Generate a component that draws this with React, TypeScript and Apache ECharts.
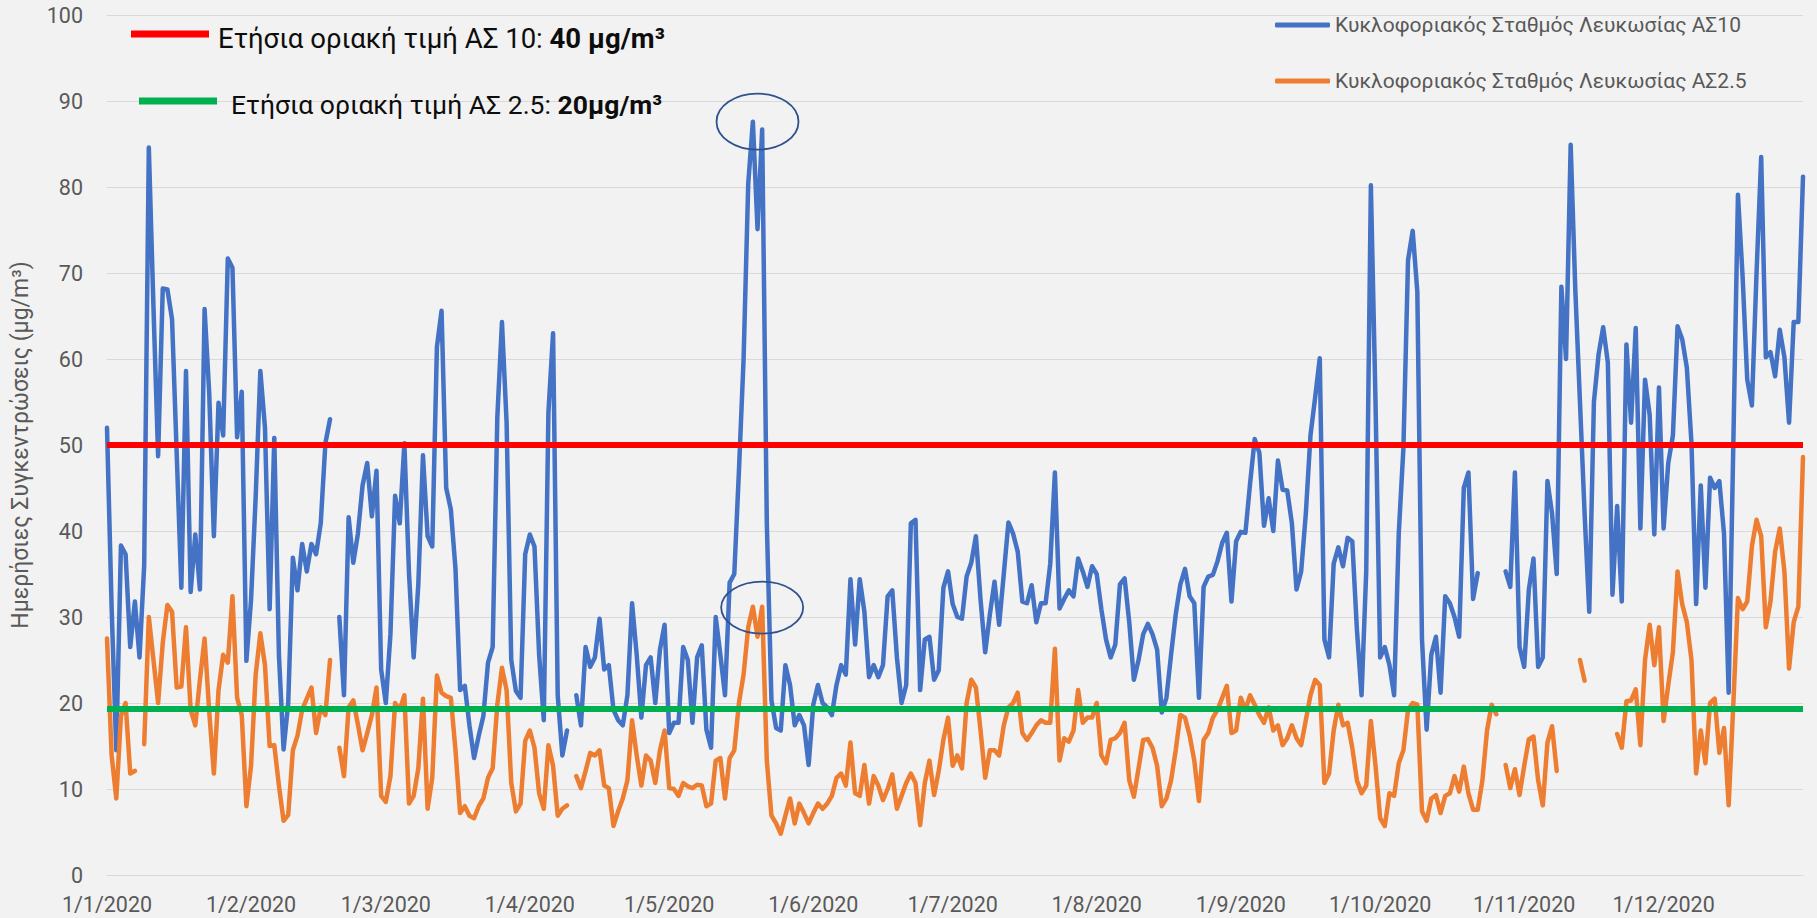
import React, { useEffect, useRef } from "react";
import * as echarts from "echarts";

const MONTH_DAYS = [31, 29, 31, 30, 31, 30, 31, 31, 30, 31, 30, 31];
const YEAR = 2020;

const PM10_NAME = "Κυκλοφοριακός Σταθμός Λευκωσίας ΑΣ10";
const PM25_NAME = "Κυκλοφοριακός Σταθμός Λευκωσίας ΑΣ2.5";
const Y_NAME = "Ημερήσιες Συγκεντρώσεις (μg/m³)";

const LIMIT_PM10 = 50;
const LIMIT_PM25 = 19.3;

// daily values, 1/1/2020 .. 31/12/2020
const pm10: (number | null)[] = [
  52, 31, 14.5, 38.3, 37.3, 26.5, 31.8, 25.3, 36, 84.6,
  66, 48.7, 68.2, 68.1, 64.6, 49, 33.4, 58.6, 32.9, 39.6,
  33.2, 65.8, 56, 39.4, 54.9, 51.1, 71.7, 70.6, 50.9, 56.2,
  24.9, 32, 44, 58.6, 52, 30.9, 50.8, 25.6, 14.6, 20,
  36.9, 33.1, 38.5, 35.3, 38.5, 37.3, 40.9, 50.2, 53, null,
  30, 20.9, 41.6, 36.3, 39.7, 45.3, 47.9, 41.7, 47, 23.9,
  20, 28, 44.1, 40.9, 50.2, 35, 25.3, 33.8, 48.8, 39.4,
  38.2, 61.4, 65.6, 45, 42.5, 35.6, 21.5, 22, 17.4, 13.6,
  16.2, 18.5, 24.7, 26.5, 53.2, 64.3, 52.6, 25, 21.4, 20.6,
  37.3, 39.6, 38.2, 25.6, 18, 53.8, 63, 20.9, 13.9, 16.8,
  null, 20.9, 17.4, 26.5, 24.2, 25.3, 29.8, 23.9, 24.4, 19.2,
  18, 17.4, 20.9, 31.6, 25.6, 18.3, 24.4, 25.3, 20, 26.2,
  29.1, 16.5, 17.7, 17.7, 26.5, 25, 17.7, 25.3, 26.7, 16.9,
  14.8, 30, 25.6, 20.9, 34, 35, 47, 60, 80.4, 87.6,
  75.1, 86.7, 40.9, 20.3, 17.1, 16.8, 24.4, 22.1, 17.4, 18.6,
  17.4, 12.8, 19.8, 22.1, 20, 19.5, 18.6, 22.1, 24.4, 23.3,
  34.4, 26.8, 34.4, 30.6, 23, 24.4, 23, 24.4, 32.4, 33.1,
  25.3, 20, 22.1, 40.9, 41.3, 21.5, 27.4, 27.7, 22.7, 23.8,
  33.4, 35.3, 31.5, 30, 29.8, 34.7, 36.3, 39.4, 32, 25.9,
  30.3, 34.1, 29.1, 35, 41, 39.7, 37.6, 31.8, 31.6, 33.7,
  29.4, 31.6, 31.6, 36.2, 46.8, 31, 32.1, 33.1, 32.4, 36.8,
  35.3, 33.5, 35.9, 35, 30.9, 27.4, 25.3, 26.8, 33.8, 34.5,
  29.4, 22.7, 25, 28, 29.2, 28, 26.2, 18.9, 20.6, 25.6,
  30.3, 33.8, 35.6, 32.4, 31.6, 20.6, 33.5, 34.7, 34.9, 36.5,
  38.6, 39.8, 31.8, 38.8, 39.9, 39.8, 45.5, 50.7, 49.1, 40.6,
  43.8, 40, 48.2, 44.8, 44.7, 40.9, 33.2, 35.3, 42, 51.1,
  55.5, 60.1, 27.4, 25.3, 36.2, 38.1, 35.9, 39.2, 38.8, 28.5,
  20.9, 35.3, 80.2, 55, 25.3, 26.5, 24.4, 20.9, 39.7, 49.6,
  71.5, 74.9, 67.8, 27.4, 16.9, 25.6, 27.7, 21.2, 32.4, 31.6,
  30, 27.7, 45, 46.8, 32.1, 35.1, null, null, null, null,
  null, 35.3, 33.5, 46.8, 26.5, 24.2, 33.2, 36.8, 24.2, 25.3,
  45.8, 42, 35, 68.4, 60, 84.9, 68, 55, 42, 30.6,
  55, 60.5, 63.7, 59.6, 32.6, 42.9, 31.8, 61.7, 52.6, 63.6,
  40.3, 57.6, 53.5, 39.6, 56.7, 40.3, 47.9, 51.1, 63.8, 62.3,
  59, 50.2, 31.5, 45.3, 33.4, 46.2, 45, 45.8, 39.7, 21.2,
  50, 79.1, 69.6, 57.6, 54.6, 70, 83.5, 60.2, 60.8, 58,
  63.4, 60.2, 52.6, 64.3, 64.3, 81.2,
];

const pm25: (number | null)[] = [
  27.5, 13.9, 8.9, 18.5, 20, 11.8, 12.1, null, 15.2, 30,
  25, 20, 27, 31.4, 30.6, 21.8, 21.9, 28.8, 19.2, 17.4,
  22.7, 27.5, 19, 11.8, 21.5, 25.6, 24.7, 32.4, 20.6, 18.6,
  8, 12.7, 23.3, 28.1, 24.4, 15, 15.1, 10.4, 6.3, 7,
  14.5, 16.2, 19.2, 20.5, 21.8, 16.5, 19.5, 18.6, 25, null,
  14.8, 11.5, 19.5, 20.3, 17.5, 14.5, 16.5, 18.6, 21.8, 9.2,
  8.5, 11.5, 20, 19.2, 20.9, 8.3, 9.2, 12.4, 20.5, 7.7,
  11.3, 23.2, 21.2, 20.8, 20.6, 14.5, 7.2, 8, 6.9, 6.6,
  8, 8.9, 11.3, 12.4, 19.8, 24.1, 21.5, 10.7, 7.4, 8.3,
  15.6, 16.8, 14.8, 9.5, 7.7, 15.1, 12.7, 6.9, 7.7, 8.1,
  null, 11.5, 10.1, 12.1, 14.2, 13.9, 14.5, 10.4, 10.1, 5.7,
  7.4, 8.9, 11, 18, 13.9, 10.4, 13.9, 13.3, 10.7, 14.5,
  16.8, 10.1, 10, 9.2, 10.7, 10.3, 10.1, 10.5, 10.4, 8,
  8.3, 13.3, 13.6, 8.9, 13.6, 14.5, 20, 23.3, 28.8, 31.2,
  27.7, 31.2, 13.3, 6.9, 6, 4.8, 6.9, 8.9, 6, 8.3,
  7.2, 6, 7.2, 8.3, 7.7, 8.3, 9.2, 11.3, 11.8, 10.4,
  15.4, 9.5, 9.2, 12.8, 8.3, 11.5, 10.4, 8.7, 10, 11.7,
  7.7, 9.2, 10.7, 11.8, 10.7, 5.8, 10.7, 13.3, 9.3, 12.1,
  15.7, 18.3, 12.7, 13.9, 12.4, 20, 22.7, 21.8, 16.8, 11.3,
  14.5, 14.5, 13.9, 17.4, 19.5, 20, 21.2, 16.5, 15.7, 16.5,
  17.4, 18, 17.7, 17.7, 26.3, 13.3, 15.9, 15.5, 16.8, 21.5,
  17.7, 18.3, 18.3, 20, 13.9, 13, 15.7, 15.9, 16.5, 17.7,
  11, 9.1, 12.4, 15.7, 15.8, 14.8, 12.7, 8, 8.9, 11,
  14.5, 18.6, 18.3, 16.2, 13.3, 8.6, 15.7, 16.5, 18.3, 19.2,
  20.6, 22, 16.5, 16.8, 20.6, 19.2, 20.9, 19.8, 18.6, 17.7,
  19.5, 16.8, 17.4, 15.1, 15.9, 17.4, 15.9, 15.1, 18, 20.9,
  22.7, 22.1, 10.7, 11.8, 16.8, 19.8, 17.4, 17.7, 14.8, 11,
  9.5, 10.4, 17.9, 12.7, 6.6, 5.7, 9.5, 9.2, 13, 14.5,
  19.2, 20, 19.8, 7.4, 6.3, 8.9, 9.3, 7.2, 9.2, 9.5,
  11.5, 9.7, 12.6, 9.5, 7.6, 7.6, 11, 16.8, 19.8, 18.7,
  null, 12.8, 10.1, 12.3, 9.3, 12.7, 15.8, 16.1, 11, 8.1,
  15.4, 17.3, 12.1, null, null, null, null, 25, 22.6, null,
  null, null, null, null, null, 16.4, 14.8, 20.2, 20.3, 21.6,
  15.1, 25, 29.1, 24.4, 28.8, 17.9, 22.1, 25.9, 35.3, 31.5,
  29.4, 25, 11.8, 16.8, 13, 20, 20.5, 14.2, 17.1, 8.1,
  19.8, 32.2, 30.9, 31.8, 38.2, 41.3, 39.4, 28.8, 31.8, 37.6,
  40.3, 35.3, 24, 29.4, 31.2, 48.6,
];

// annotation ellipses around the May episode: [day index, value]
const HIGHLIGHTS = [
  { day: 140.3, value: 87.6, rx: 41, ry: 28 },
  { day: 140.8, value: 31.1, rx: 41, ry: 26 },
];

const dates: string[] = [];
MONTH_DAYS.forEach((n, m) => {
  for (let d = 1; d <= n; d++) dates.push(`${d}/${m + 1}/${YEAR}`);
});

const FONT = "Roboto, 'Noto Sans', sans-serif";
const GREY = "#595959";

export default function App() {
  const ref = useRef<HTMLDivElement>(null);

  useEffect(() => {
    document.body.style.margin = "0";
    document.body.style.background = "#f2f2f2";
    const chart = echarts.init(ref.current!, undefined, { renderer: "svg" });
    chart.setOption({
      animation: false,
      backgroundColor: "#f2f2f2",
      textStyle: { fontFamily: FONT },
      grid: { left: 107, right: 14, top: 15, bottom: 43, containLabel: false },
      legend: {
        data: [PM10_NAME, PM25_NAME],
        orient: "vertical",
        left: 1275,
        top: 14,
        padding: 0,
        itemWidth: 55,
        itemHeight: 5,
        itemGap: 34,
        icon: "roundRect",
        selectedMode: false,
        textStyle: { color: GREY, fontSize: 21, fontFamily: FONT, lineHeight: 22 },
      },
      xAxis: {
        type: "category",
        data: dates,
        boundaryGap: false,
        axisLine: { lineStyle: { color: "#d9d9d9" } },
        axisTick: { show: false },
        axisLabel: {
          interval: (_i: number, v: string) => v.startsWith("1/"),
          color: GREY,
          fontSize: 21.5,
          margin: 18,
          fontFamily: FONT,
        },
        splitLine: { show: false },
      },
      yAxis: {
        type: "value",
        min: 0,
        max: 100,
        interval: 10,
        axisLine: { show: false },
        axisTick: { show: false },
        axisLabel: { color: GREY, fontSize: 21.5, margin: 24, fontFamily: FONT },
        splitLine: { lineStyle: { color: "#d9d9d9", width: 1 } },
        name: Y_NAME,
        nameLocation: "middle",
        nameRotate: 90,
        nameGap: 75,
        nameTextStyle: { color: GREY, fontSize: 23, fontFamily: FONT },
      },
      series: [
        {
          name: PM10_NAME,
          type: "line",
          data: pm10,
          symbol: "none",
          showSymbol: false,
          connectNulls: false,
          itemStyle: { color: "#4472c4" },
          lineStyle: { color: "#4472c4", width: 4.5, cap: "round", join: "round" },
          z: 2,
        },
        {
          name: PM25_NAME,
          type: "line",
          data: pm25,
          symbol: "none",
          showSymbol: false,
          connectNulls: false,
          itemStyle: { color: "#ed7d31" },
          lineStyle: { color: "#ed7d31", width: 4.5, cap: "round", join: "round" },
          z: 2,
        },
        {
          name: "limits",
          type: "line",
          data: [],
          z: 5,
          markLine: {
            silent: true,
            symbol: "none",
            label: { show: false },
            data: [
              { yAxis: LIMIT_PM10, lineStyle: { color: "#ff0000", width: 6, type: "solid" } },
              { yAxis: LIMIT_PM25, lineStyle: { color: "#00b050", width: 6, type: "solid" } },
            ],
          },
        },
      ],
    });

    const ellipses = HIGHLIGHTS.map((h) => {
      const p = chart.convertToPixel({ gridIndex: 0 }, [h.day, h.value]) as number[];
      return {
        type: "ellipse",
        shape: { cx: p[0], cy: p[1], rx: h.rx, ry: h.ry },
        style: { fill: "none", stroke: "#2f528f", lineWidth: 1.8 },
        z: 10,
        silent: true,
      };
    });

    chart.setOption({
      graphic: [
        ...ellipses,
        {
          type: "line",
          shape: { x1: 131, y1: 34, x2: 209, y2: 34 },
          style: { stroke: "#ff0000", lineWidth: 7 },
          z: 10,
        },
        {
          type: "text",
          x: 218,
          y: 38,
          z: 10,
          style: {
            text: "Ετήσια οριακή τιμή ΑΣ 10: {b|40 μg/m³}",
            fill: "#0d0d0d",
            font: `27.5px ${FONT}`,
            verticalAlign: "middle",
            rich: { b: { fontWeight: "bold", fontSize: 27.5, fontFamily: FONT, fill: "#0d0d0d" } },
          },
        },
        {
          type: "line",
          shape: { x1: 139, y1: 101, x2: 217, y2: 101 },
          style: { stroke: "#00b050", lineWidth: 7 },
          z: 10,
        },
        {
          type: "text",
          x: 231,
          y: 104,
          z: 10,
          style: {
            text: "Ετήσια οριακή τιμή ΑΣ 2.5: {b|20μg/m³}",
            fill: "#0d0d0d",
            font: `26.5px ${FONT}`,
            verticalAlign: "middle",
            rich: { b: { fontWeight: "bold", fontSize: 26.5, fontFamily: FONT, fill: "#0d0d0d" } },
          },
        },
      ],
    });

    return () => chart.dispose();
  }, []);

  return (
    <div
      ref={ref}
      style={{ position: "fixed", left: 0, top: 0, width: 1817, height: 918, background: "#f2f2f2" }}
    />
  );
}
